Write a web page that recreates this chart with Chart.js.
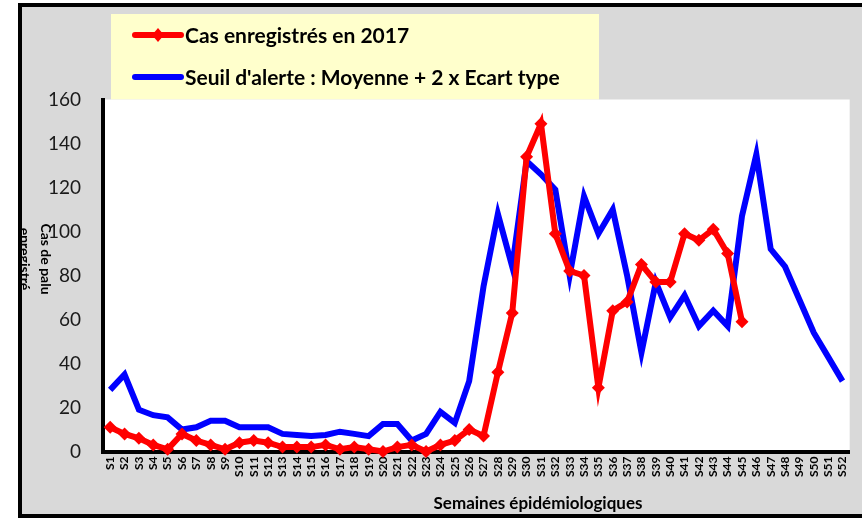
<!DOCTYPE html>
<html>
<head>
<meta charset="utf-8">
<script src="https://cdn.jsdelivr.net/npm/chart.js@4/dist/chart.umd.min.js"></script>
<style>
  body { margin: 0; background: #fff; }
  #box { width: 862px; height: 518px; position: relative; }
</style>
</head>
<body>
<div id="box"><canvas id="myChart"></canvas></div>
<script>
var semaines = [];
for (var s = 1; s <= 52; s++) semaines.push("S" + s);

var cas2017 = [11, 8, 6, 3, 1, 8, 5, 3, 1, 4, 5, 4, 2, 2, 2, 3, 1, 2, 1, 0,
  2, 3, 0, 3, 5, 10, 7, 36, 63, 134, 149, 99, 82, 80, 29, 64, 68, 85, 77, 77,
  99, 96, 101, 90, 59];

var seuilAlerte = [28, 35, 19, 16.5, 15.5, 10, 11, 14, 14, 11, 11, 11, 8, 7.5, 7, 7.5, 9, 8, 7, 12.5,
  12.5, 5, 8, 18, 13, 32, 75, 108, 84, 132, 126, 119, 80, 116, 99, 110, 80, 45, 77, 61,
  71, 57, 64, 57, 107, 135, 92, 84, 69, 54, 43, 32];

var yTicks = [0, 20, 40, 60, 80, 100, 120, 140, 160];

var legende = ["Cas enregistrés en 2017", "Seuil d'alerte : Moyenne + 2 x Ecart type"];
var titreY = ["Cas de palu", "enregistré"];
var titreX = "Semaines épidémiologiques";

Chart.defaults.font.family = "Lato, 'Open Sans', sans-serif";
Chart.defaults.color = "#000";

// fond gris, cadre noir, légende jaune et titres
var decor = {
  id: "decor",
  beforeDraw: function (chart) {
    var ctx = chart.ctx;
    var a = chart.chartArea;
    ctx.save();
    ctx.fillStyle = "#ffffff";
    ctx.fillRect(0, 0, chart.width, chart.height);
    ctx.fillStyle = "#d9d9d9";
    ctx.fillRect(20, 5, chart.width, 511);
    ctx.strokeStyle = "#000";
    ctx.lineWidth = 4;
    ctx.strokeRect(20, 5, chart.width + 10, 511);
    ctx.fillStyle = "#ffffcc";
    ctx.fillRect(111, 14, 488, a.top - 14);
    ctx.fillStyle = "#ffffff";
    ctx.fillRect(a.left, a.top, a.right - a.left, a.bottom - a.top);
    ctx.restore();
  },
  afterDraw: function (chart) {
    var ctx = chart.ctx;
    ctx.save();
    // légende
    var couleurs = ["#ff0000", "#0000ff"];
    var ys = [35, 77];
    for (var i = 0; i < 2; i++) {
      ctx.strokeStyle = couleurs[i];
      ctx.lineWidth = 6;
      ctx.lineCap = "round";
      ctx.beginPath();
      ctx.moveTo(135, ys[i]);
      ctx.lineTo(181, ys[i]);
      ctx.stroke();
      if (i == 0) {
        ctx.fillStyle = couleurs[i];
        ctx.beginPath();
        ctx.moveTo(158, ys[i] - 7);
        ctx.lineTo(164, ys[i]);
        ctx.lineTo(158, ys[i] + 7);
        ctx.lineTo(152, ys[i]);
        ctx.closePath();
        ctx.fill();
      }
      ctx.fillStyle = "#000";
      ctx.font = "bold 21px Lato";
      ctx.textBaseline = "middle";
      ctx.textAlign = "left";
      ctx.fillText(legende[i], 185, ys[i] + 1);
    }
    // titre axe x
    ctx.font = "bold 17px Lato";
    ctx.textAlign = "center";
    ctx.fillText(titreX, 538, 504);
    // titre axe y
    ctx.font = "bold 14px Lato";
    ctx.translate(46, 259);
    ctx.rotate(Math.PI / 2);
    ctx.fillText(titreY[0], 0, 0);
    ctx.fillText(titreY[1], 0, 21);
    ctx.restore();
  }
};

const data = {
  labels: semaines,
  datasets: [
    {
      label: legende[0],
      data: cas2017,
      borderColor: "#ff0000",
      backgroundColor: "#ff0000",
      borderWidth: 6,
      pointStyle: "rectRot",
      pointRadius: 6.5,
      pointBorderWidth: 0,
      tension: 0,
      clip: false,
    },
    {
      label: legende[1],
      data: seuilAlerte,
      borderColor: "#0000ff",
      backgroundColor: "#0000ff",
      borderWidth: 6,
      pointRadius: 0,
      tension: 0,
      clip: false,
    },
  ],
};

const config = {
  type: "line",
  data: data,
  options: {
    responsive: true,
    maintainAspectRatio: false,
    animation: false,
    layout: { padding: { top: 99.5, right: 11, left: 0, bottom: 0 } },
    plugins: { legend: { display: false }, tooltip: { enabled: false } },
    scales: {
      x: {
        offset: true,
        grid: { display: false, drawTicks: false },
        border: { color: "#000", width: 4 },
        ticks: {
          autoSkip: false,
          minRotation: 90,
          maxRotation: 90,
          padding: 5,
          font: { size: 12, weight: "bold" },
        },
        afterFit: function (scale) { scale.height = 66.5; },
      },
      y: {
        min: 0,
        max: 160,
        afterBuildTicks: function (scale) {
          scale.ticks = yTicks.map(function (v) { return { value: v }; });
        },
        grid: { display: false, drawTicks: false },
        border: { color: "#000", width: 4 },
        ticks: { padding: 22, font: { size: 19 }, color: "#1a1a1a" },
        afterFit: function (scale) { scale.width = 103; },
      },
    },
  },
  plugins: [decor],
};

const myChart = new Chart(document.getElementById("myChart"), config);
</script>
</body>
</html>
